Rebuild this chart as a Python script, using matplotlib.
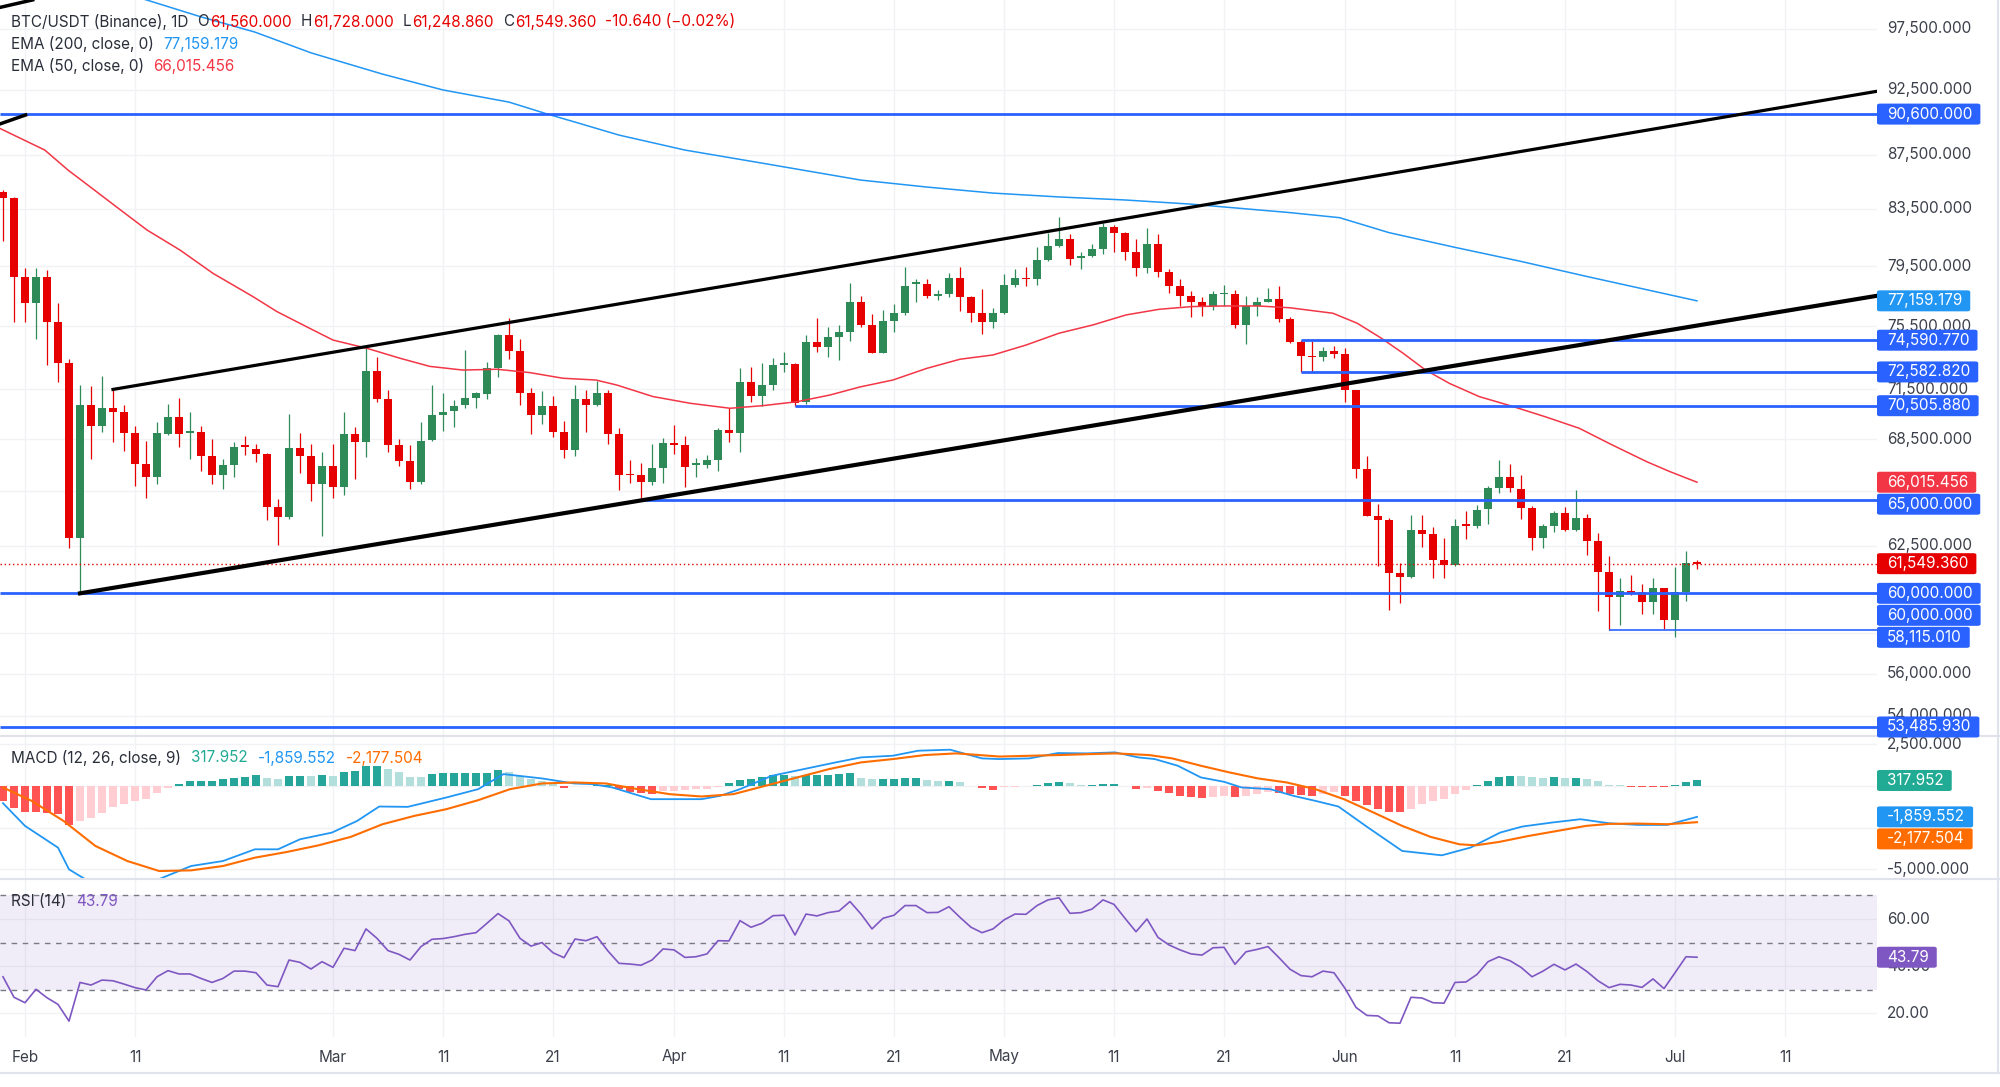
import numpy as np
import pandas as pd
import matplotlib
matplotlib.use("Agg")
import matplotlib.pyplot as plt
from matplotlib.lines import Line2D
from matplotlib.patches import FancyBboxPatch

plt.rcParams["font.family"] = ["Inter", "DejaVu Sans"]

# ---------------- data ----------------
dates = pd.date_range("2026-01-30", periods=155, freq="D")

opens = [
    84700, 84300, 78750, 77000, 78750, 75800, 73150, 62950, 70550, 69300,
    70350, 70150, 68850, 67050, 66300, 68800, 69800, 68870, 68900, 67500,
    66450, 67000, 68100, 67950, 67650, 64650, 64050, 68000, 67500, 65900,
    66950, 65750, 68800, 68350, 72650, 70900, 68150, 67250, 66000, 68450,
    69950, 70200, 70530, 70950, 71200, 72850, 74900, 73900, 71250, 69950,
    70500, 68950, 67850, 70900, 70550, 71300, 68800, 66500, 66400, 66050,
    66800, 68300, 68150, 67000, 67000, 67300, 69050, 68850, 71950, 71100,
    71800, 73020, 73050, 70700, 74450, 74150, 74800, 75150, 77050, 75550,
    73800, 75850, 76350, 78300, 78300, 77500, 77600, 78700, 77400, 76350,
    75800, 76350, 78250, 78700, 78600, 79900, 80900, 81400, 80060, 80200,
    80650, 82250, 81800, 80500, 79350, 81050, 79100, 78150, 77450, 77050,
    76850, 77600, 77600, 75600, 76800, 77100, 77300, 75950, 74450, 73600,
    73500, 73900, 73700, 71450, 66750, 64100, 63900, 61050, 60850, 63350,
    63150, 61750, 61500, 63650, 63600, 64500, 65700, 66300, 65650, 64550,
    62950, 63550, 64300, 63350, 64000, 62750, 61100, 59800, 60100, 60050,
    59550, 60250, 58650, 60050, 61560]
highs = [
    84850, 84400, 79400, 79400, 79250, 77000, 73400, 71750, 71700, 72300,
    71500, 70550, 69300, 68400, 69500, 70600, 71000, 70150, 69300, 68500,
    67350, 68350, 68700, 68250, 67700, 65050, 70000, 68850, 68200, 67750,
    68200, 70100, 69250, 74100, 73550, 71450, 68540, 68180, 69500, 71750,
    71300, 70850, 73950, 71330, 73200, 75000, 76000, 74650, 71600, 71400,
    71100, 69600, 71800, 71450, 72050, 71450, 69170, 67300, 67140, 68200,
    68600, 69350, 68700, 67400, 67580, 69150, 70350, 72800, 72900, 73150,
    73450, 73850, 73150, 74950, 76050, 75450, 75580, 78330, 77450, 76270,
    76550, 76950, 79450, 78650, 78620, 77850, 79000, 79450, 77510, 77950,
    76710, 78950, 79300, 79450, 80800, 81800, 82900, 81750, 80500, 81050,
    82500, 82350, 81890, 81350, 82150, 81700, 79300, 78600, 77800, 77400,
    77800, 78220, 77900, 77450, 77400, 78000, 78150, 76100, 74591, 74550,
    74150, 74250, 74070, 71450, 67500, 64800, 64000, 61600, 64200, 64180,
    63500, 62900, 63950, 64400, 64750, 65800, 67300, 67050, 66400, 64680,
    63670, 64400, 64610, 65600, 64250, 63200, 61950, 60780, 60950, 60500,
    60780, 60300, 61350, 62200, 61728]
lows = [
    81200, 75750, 75750, 74650, 73000, 71950, 62400, 60000, 67350, 68950,
    68350, 67800, 65800, 65150, 65900, 68750, 68050, 67350, 66650, 65900,
    65650, 66300, 67560, 67200, 63900, 62550, 63950, 66550, 64950, 63050,
    65100, 65300, 66200, 67450, 70700, 67770, 66950, 65650, 65900, 68400,
    69000, 69250, 70390, 70350, 70900, 72290, 73400, 70530, 68800, 69400,
    68650, 67400, 67500, 68950, 70470, 68200, 65550, 65950, 65000, 65860,
    65990, 67650, 65750, 66300, 66800, 66650, 68350, 67770, 70700, 70500,
    71450, 72550, 70506, 70610, 73833, 73544, 73350, 74550, 75470, 73800,
    73750, 75100, 76250, 77050, 77350, 77200, 77400, 76500, 75750, 75000,
    75400, 76300, 78100, 78170, 78240, 79850, 80800, 79550, 79300, 80150,
    80350, 80500, 79900, 78800, 79000, 78740, 77700, 76800, 76100, 76180,
    76550, 76800, 75400, 74350, 76160, 77050, 75750, 74400, 72600, 72583,
    73300, 73440, 70700, 66250, 64100, 61450, 59150, 59500, 60780, 62450,
    60800, 60780, 61450, 62850, 63450, 63700, 65400, 65450, 63950, 62300,
    62370, 63250, 63300, 63300, 62000, 59100, 58115, 58400, 59900, 58950,
    58950, 58200, 57800, 59600, 61248.86]
closes = [
    84300, 78750, 77000, 78750, 75800, 73150, 62950, 70550, 69300, 70350,
    70150, 68850, 67050, 66300, 68850, 69800, 68800, 68930, 67500, 66450,
    67000, 68050, 68050, 67650, 64650, 64050, 68000, 67500, 65900, 66950,
    65750, 68800, 68350, 72650, 70900, 68150, 67250, 66000, 68400, 69950,
    70150, 70500, 70950, 71250, 72850, 74900, 73920, 71250, 69950, 70500,
    68950, 67850, 70900, 70550, 71300, 68800, 66400, 66400, 66030, 66800,
    68300, 68150, 66900, 67050, 67300, 69050, 68850, 71950, 71100, 71800,
    73000, 73100, 70650, 74450, 74150, 74800, 75150, 77050, 75550, 73800,
    75850, 76350, 78150, 78350, 77450, 77600, 78700, 77400, 76340, 75800,
    76360, 78240, 78670, 78600, 79900, 80900, 81400, 80000, 80200, 80650,
    82250, 81800, 80500, 79350, 81050, 79100, 78150, 77450, 77050, 76850,
    77600, 77700, 75550, 76800, 77100, 77300, 75950, 74450, 73600, 73500,
    73900, 73700, 71450, 66750, 64100, 63900, 61050, 60850, 63350, 63150,
    61750, 61500, 63600, 63600, 64450, 65700, 66300, 65700, 64550, 62950,
    63550, 64300, 63350, 64000, 62750, 61100, 59800, 60100, 60000, 59550,
    60250, 58650, 60050, 61560, 61549.36]

# EMA samples: day offset from 1 Feb, value
ema50_day = [-2.3, 1.8, 3.9, 5.9, 8.9, 11.1, 14.1, 17.1, 20.7, 22.9, 25.9, 28, 31.1, 34.1,
             36.8, 39.8, 42.9, 45.9, 48.9, 51.9, 53.8, 57.1, 60.5, 64.1, 67.1, 70.2, 73.2,
             75.9, 78.9, 82, 85, 88, 91, 94, 97.1, 100.1, 103.1, 106.1, 109.1, 112.1, 115,
             118.9, 121.1, 123.3, 125.3, 127.3, 129.5, 132.2, 135.2, 138.2, 141.3, 144,
             147.4, 149.5, 152]
ema50_val = [89500, 87840, 86350, 85120, 83300, 82000, 80600, 79000, 77450, 76450, 75350,
             74600, 74070, 73440, 72930, 72700, 72750, 72540, 72190, 72080, 71770, 71060,
             70650, 70350, 70510, 70750, 71160, 71650, 72080, 72810, 73380, 73650, 74280,
             75040, 75580, 76230, 76600, 76780, 76820, 76820, 76700, 76340, 75690, 74720,
             73750, 72710, 71870, 71060, 70470, 69840, 69150, 68260, 67200, 66630, 66015.456]
ema200_day = [-2, 5, 11.2, 16, 20.9, 26, 32.5, 38, 44, 47.5, 50, 54, 60, 67, 76, 82, 88,
              94, 100, 106, 115, 119.5, 124, 130, 136, 142, 152]
ema200_val = [103800, 101700, 99900, 98500, 97220, 95500, 93770, 92500, 91540, 90600,
              89980, 88980, 87840, 86860, 85600, 85090, 84650, 84370, 84150, 83850, 83240,
              82880, 81820, 80790, 79820, 78790, 77159.179]

macd_day = [-2, 0, 3, 4, 6, 8, 10, 12.5, 15.1, 18, 20.9, 23, 25, 27.9, 30.2, 32.2, 34.8,
            38.3, 41.2, 43.5, 47, 49.9, 51.6, 53.4, 56.9, 59.2, 61.5, 63.2, 65, 67.9, 70.8,
            73.7, 76, 78.9, 81.2, 84.1, 87, 88.6, 91.3, 93.9, 96.5, 99.1, 101.2, 102.7,
            104.8, 106.9, 109, 110.6, 113.2, 115.3, 117.3, 119.4, 122.1, 125.2, 128.8,
            131.4, 134.1, 136.1, 138.8, 141.4, 144, 146.6, 149.3, 152]
macd_val = [-1040, -2400, -3700, -5000, -5800, -6300, -6200, -5500, -4800, -4500, -3800,
            -3800, -3200, -2800, -2100, -1240, -1260, -700, -200, 700, 440, 140, 100, -100,
            -800, -800, -800, -600, -200, 600, 1000, 1400, 1700, 1800, 2100, 2160, 1640,
            1600, 1640, 1960, 1940, 2000, 1700, 1600, 1200, 500, 240, -100, -200, -600,
            -900, -1240, -2500, -3900, -4160, -3700, -2800, -2440, -2200, -2000, -2240,
            -2340, -2340, -1859.552]
signal_day = [-2, 0.6, 3.5, 6.4, 9.3, 12.2, 15.1, 18, 20.9, 23.8, 26.7, 29.6, 32.5, 35.4,
              38.3, 41.2, 44.1, 47, 49.9, 52.8, 55.7, 58.6, 61.5, 64.4, 67.3, 70.2, 73.1,
              76, 78.9, 81.8, 84.7, 88.6, 93.9, 99.1, 102.2, 104.3, 106.9, 109.5, 112.1,
              114.7, 117.3, 119.9, 122.6, 125.2, 127.8, 130.4, 131.9, 134, 136.7, 139.3,
              141.9, 144, 146.6, 149.3, 152]
signal_val = [-100, -900, -2100, -3600, -4500, -5100, -5060, -4800, -4300, -3960, -3560,
              -3060, -2300, -1800, -1400, -860, -200, 140, 200, 140, -200, -500, -640, -500,
              0, 500, 1000, 1400, 1600, 1840, 1940, 1750, 1840, 1940, 1840, 1640, 1200, 800,
              440, 200, -200, -800, -1600, -2400, -3060, -3500, -3560, -3360, -3000, -2700,
              -2400, -2280, -2260, -2300, -2177.504]
hist = [
    -900, -1300, -1560, -1580, -1600, -1700, -2340, -2100, -1900, -1600,
    -1240, -1100, -900, -800, -460, -160, 100, 260, 300, 300,
    400, 480, 540, 640, 480, 400, 580, 600, 560, 640,
    600, 800, 880, 1160, 1200, 1000, 800, 540, 520, 680,
    740, 740, 760, 760, 760, 960, 800, 600, 400, 300,
    140, -160, -40, -20, 20, 20, -200, -380, -440, -500,
    -340, -300, -260, -220, -200, -100, 140, 360, 400, 500,
    660, 660, 600, 620, 640, 640, 700, 740, 460, 400,
    400, 400, 440, 460, 360, 300, 300, 200, -40, -160,
    -260, -100, -60, -40, 40, 160, 240, 140, 40, 40,
    100, 100, -40, -200, -160, -320, -460, -600, -660, -740,
    -660, -600, -700, -600, -500, -400, -440, -500, -560, -600,
    -500, -400, -600, -900, -1160, -1360, -1540, -1550, -1400, -1100,
    -920, -760, -500, -260, 40, 300, 540, 600, 580, 500,
    460, 500, 440, 460, 400, 260, 60, 40, -60, -60,
    -60, -60, 40, 200, 317.952]
rsi = [
    35.5, 26.8, 24.5, 30.2, 26.6, 23.8, 16.7, 33.1, 32, 34.1,
    33.8, 32.4, 30.9, 29.9, 35.5, 38.1, 36.7, 36.7, 34.8, 33.1,
    34.8, 37.9, 37.9, 37.2, 32, 31.3, 42.6, 41.6, 38.8, 41.9,
    39.5, 47.6, 46.6, 55.8, 51.8, 46.6, 45, 42.6, 48.3, 51.4,
    51.7, 52.5, 53.5, 54.2, 58.2, 62.3, 59.2, 51.8, 48.5, 50,
    45.7, 43.6, 51.5, 50.8, 52.5, 46.4, 41.2, 40.9, 40.4, 42.6,
    47.3, 46.9, 43.7, 44, 45.2, 50.8, 50.7, 59.3, 56.5, 58.2,
    61.4, 61.6, 53.2, 62.1, 61.3, 62.7, 63.4, 67.4, 62.1, 55.8,
    60.3, 61.6, 65.7, 65.7, 62.7, 62.8, 65.2, 60.7, 56.5, 54.2,
    55.8, 59.6, 62.1, 62, 65.7, 68.1, 69, 62.4, 62.7, 64.2,
    68.1, 66.2, 60.3, 54.6, 60, 52.2, 49, 46.9, 45.2, 44.7,
    47.8, 48, 40.8, 46.1, 47.1, 48.3, 43.6, 38.7, 36, 35.5,
    37.9, 37.2, 30.6, 22.5, 19.1, 18.9, 16, 15.8, 26.8, 26.5,
    24.5, 24.3, 33.1, 33.3, 36.5, 41.9, 44, 42.3, 39.5, 35.5,
    37.9, 40.8, 38.4, 40.9, 37.7, 33.8, 30.9, 32.3, 32, 31,
    34.6, 30.5, 37.2, 44, 43.79]

# drawings: channel (day, price) end points, horizontal levels (price, first day or None)
upper_channel = ([8, 168.4], [71500, 92400])
lower_channel = ([5, 168.4], [60000, 77500])
top_stub_a = ([-2.3, 0.05], [89830, 90530])
top_stub_b = ([-2.3, 0.7], [99300, 99950])
levels = [90600.0, 74590.77, 72582.82, 70505.88, 65000.0, 60000.0, 58115.01, 53485.93]
level_from = [None, 116, 116, 70, 56, None, 144, None]
last_price = 61549.36

grid_prices = [97500, 92500, 87500, 83500, 79500, 75500, 71500, 68500, 65500, 62500,
               58000, 56000, 54000]
price_labels = [97500, 92500, 87500, 83500, 79500, 75500, 71500, 68500, 62500, 56000, 54000]
macd_grid = [2500, 0, -2500, -5000]
macd_labels = [2500, -5000]
rsi_grid = [60, 40, 20]
tick_dates = ["2026-02-01", "2026-02-11", "2026-03-01", "2026-03-11", "2026-03-21",
              "2026-04-01", "2026-04-11", "2026-04-21", "2026-05-01", "2026-05-11",
              "2026-05-21", "2026-06-01", "2026-06-11", "2026-06-21", "2026-07-01",
              "2026-07-11"]
tick_labels = ["Feb", "11", "Mar", "11", "21", "Apr", "11", "21", "May", "11", "21",
               "Jun", "11", "21", "Jul", "11"]

# ---------------- styling ----------------
GREEN = "#2E8B57"
RED = "#E60000"
BLUE_LVL = "#2962FF"
EMA200_C = "#2196F3"
EMA50_C = "#F23645"
GRID = "#F0F2F6"
TXT = "#2A2E39"
AXTXT = "#3B3F4A"

W, H = 2000, 1087
PLOT_R = 1877
fig = plt.figure(figsize=(W / 100, H / 100), dpi=100)
fig.patch.set_facecolor("white")


def panel(top, bottom):
    a = fig.add_axes([0, 1 - bottom / H, PLOT_R / W, (bottom - top) / H])
    a.axis("off")
    a.set_xlim(-25 / 11, (PLOT_R - 25) / 11)
    return a


ax = panel(0, 735)
axm = panel(736, 879)
axr = panel(880, 1037)
ax.set_yscale("log")
ax.set_ylim(53118, 99940)
axm.set_ylim(-5577, 2980)
axr.set_ylim(9.96, 76.54)

ref = pd.Timestamp("2026-02-01")
x = np.asarray((dates - ref).days, dtype=float)
tick_x = np.asarray((pd.to_datetime(tick_dates) - ref).days, dtype=float)

for a in (ax, axm, axr):
    for t in tick_x:
        a.axvline(t, color=GRID, lw=1, zorder=0)
for p in grid_prices:
    ax.axhline(p, color=GRID, lw=1, zorder=0)
for v in macd_grid:
    axm.axhline(v, color=GRID, lw=1, zorder=0)
for v in rsi_grid:
    axr.axhline(v, color=GRID, lw=1, zorder=0)

# ---- candles ----
o, h, l, c = (np.asarray(v, dtype=float) for v in (opens, highs, lows, closes))
col = np.where(c >= o, GREEN, RED)
ax.vlines(x, l, h, colors=col, lw=0.9, zorder=3)
lo = np.minimum(o, c)
hi = np.maximum(np.maximum(o, c), lo * 1.0014)
ax.bar(x, hi - lo, bottom=lo, width=0.64, color=col, lw=0, zorder=4)

ax.plot(ema200_day, ema200_val, color=EMA200_C, lw=1.1, zorder=5)
ax.plot(ema50_day, ema50_val, color=EMA50_C, lw=1.1, zorder=5)

xmax = (PLOT_R - 25) / 11
xmin = -25 / 11
for p, d0 in zip(levels, level_from):
    lw = 1.2 if p == 58115.01 else 2.0
    ax.plot([xmin if d0 is None else d0, xmax], [p, p], color=BLUE_LVL, lw=lw,
            zorder=6, solid_capstyle="butt")
ax.plot(*upper_channel, color="black", lw=2.3, zorder=7)
ax.plot(*lower_channel, color="black", lw=3.0, zorder=7)
ax.plot(*top_stub_a, color="black", lw=2.5, zorder=7)
ax.plot(*top_stub_b, color="black", lw=2.5, zorder=7)
ax.axhline(last_price, color=RED, lw=1, ls=(0, (1, 2)), zorder=6)

# ---- MACD ----
hv = np.asarray(hist, dtype=float)
prev = np.concatenate([[hv[0]], hv[:-1]])
hcol = np.where(hv >= 0, np.where(hv >= prev, "#26A69A", "#B2DFDB"),
                np.where(hv <= prev, "#FF5252", "#FFCDD2"))
axm.bar(x, hv, width=0.75, color=hcol, lw=0, zorder=2)
axm.plot(macd_day, macd_val, color="#2196F3", lw=1.3, zorder=3)
axm.plot(signal_day, signal_val, color="#FF6D00", lw=1.5, zorder=3)

# ---- RSI ----
axr.axhspan(30, 70, color="#7E57C2", alpha=0.1, lw=0, zorder=0)
for v in (70, 50, 30):
    axr.axhline(v, color="#787B86", lw=1, ls=(0, (4, 4)), zorder=1)
axr.plot(x, rsi, color="#7E57C2", lw=1.2, zorder=3)

# ---------------- texts ----------------
r = fig.canvas.get_renderer()


def py(a, v):
    return H - a.transData.transform((0, v))[1]


def put(xp, yp, s, color, size=11, **kw):
    return fig.text(xp / W, 1 - yp / H, s, color=color, fontsize=size,
                    va="center", ha=kw.pop("ha", "left"), **kw)


def rich(xp, yp, parts, size=11):
    for s, colr, gap in parts:
        t = put(xp, yp, s, colr, size)
        xp = t.get_window_extent(renderer=r).x1 + gap


rich(11, 22, [("BTC/USDT (Binance), 1D", TXT, 9), ("O", TXT, 1), ("61,560.000", RED, 9),
              ("H", TXT, 1), ("61,728.000", RED, 9), ("L", TXT, 1), ("61,248.860", RED, 9),
              ("C", TXT, 1), ("61,549.360", RED, 9), ("-10.640 (\u22120.02%)", RED, 0)])
rich(11, 44, [("EMA (200, close, 0)", TXT, 9), ("77,159.179", EMA200_C, 0)])
rich(11, 66, [("EMA (50, close, 0)", TXT, 9), ("66,015.456", EMA50_C, 0)])
rich(11, 758, [("MACD (12, 26, close, 9)", TXT, 10), ("317.952", "#22AB94", 10),
               ("-1,859.552", "#2196F3", 10), ("-2,177.504", "#FF6D00", 0)])
rich(11, 901, [("RSI (14)", TXT, 10), ("43.79", "#7E57C2", 0)])

for p in price_labels:
    put(1887, py(ax, p), f"{p:,.3f}", AXTXT)
for v in macd_labels:
    put(1887, py(axm, v), f"{v:,.3f}", AXTXT)
for v in rsi_grid:
    put(1887, py(axr, v), f"{v:.2f}", AXTXT)
for t, s in zip(tick_x, tick_labels):
    put(25 + 11 * t, 1057, s, AXTXT, ha="center")


def boxes(items, step=22.0):
    ys = []
    for a, v, s, colr in items:
        y = py(a, v)
        if ys and y < ys[-1] + step:
            y = ys[-1] + step
        ys.append(y)
        t = put(1887, y, s, "white", zorder=12)
        right = t.get_window_extent(renderer=r).x1 + 8
        fig.add_artist(FancyBboxPatch((1877 / W, 1 - (y + 10.5) / H), (right - 1877) / W,
                                      21 / H, boxstyle="round,pad=0,rounding_size=0.0015",
                                      transform=fig.transFigure, fc=colr, ec="none",
                                      zorder=11))


boxes([(ax, 90600.0, "90,600.000", BLUE_LVL), (ax, 77159.179, "77,159.179", EMA200_C),
       (ax, 74590.77, "74,590.770", BLUE_LVL), (ax, 72582.82, "72,582.820", BLUE_LVL),
       (ax, 70505.88, "70,505.880", BLUE_LVL), (ax, 66015.456, "66,015.456", EMA50_C),
       (ax, 65000.0, "65,000.000", BLUE_LVL), (ax, last_price, "61,549.360", RED),
       (ax, 60000.0, "60,000.000", BLUE_LVL), (ax, 60000.0, "60,000.000", BLUE_LVL),
       (ax, 58115.01, "58,115.010", BLUE_LVL), (ax, 53485.93, "53,485.930", BLUE_LVL)])
boxes([(axm, 317.952, "317.952", "#22AB94"), (axm, -1859.552, "-1,859.552", "#2196F3"),
       (axm, -2177.504, "-2,177.504", "#FF6D00")])
boxes([(axr, 43.79, "43.79", "#7E57C2")])

# panel separators and frame
for yy in (736, 879):
    fig.add_artist(Line2D([0, 1], [1 - yy / H] * 2, transform=fig.transFigure,
                          color="#E0E3EB", lw=1.5))
fig.add_artist(Line2D([0, 1], [1 - 1073 / H] * 2, transform=fig.transFigure,
                      color="#E0E3EB", lw=1.5))
fig.add_artist(Line2D([1998 / W] * 2, [1 - 1073 / H, 1], transform=fig.transFigure,
                      color="#E0E3EB", lw=1.5))

fig.savefig("out.png", dpi=100, facecolor="white")
